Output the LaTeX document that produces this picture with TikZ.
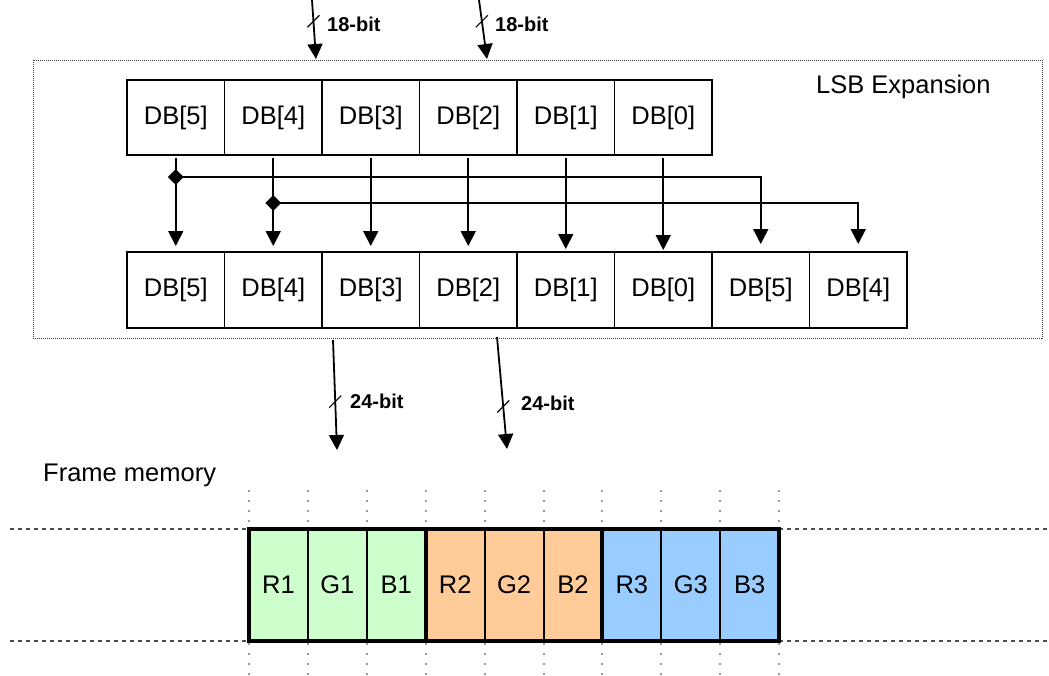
\documentclass[tikz,border=0pt]{standalone}
\usepackage{fontspec}
\setmainfont{Liberation Sans}
\usetikzlibrary{arrows.meta}
\usetikzlibrary{shapes.geometric, calc}
\definecolor{cellgreen}{RGB}{204,255,204}
\definecolor{cellorange}{RGB}{255,204,153}
\definecolor{cellblue}{RGB}{153,204,255}
\tikzset{
	bitbox/.style={draw, line width=1.8pt, inner sep=0pt, outer sep=0pt, minimum width=97.5pt, font=\fontsize{25.5}{30}\selectfont},
	toprow/.style={bitbox, minimum height=75pt},
	botrow/.style={bitbox, minimum height=76pt},
	arr/.style={line width=1.8pt, -{Triangle[length=15pt, width=15pt]}},
	junction/.style={diamond, fill, inner sep=0pt, minimum size=16pt},
	buslabel/.style={anchor=west, inner sep=0pt, font=\bfseries\fontsize{20}{24}\selectfont},
	mydots/.style={dash pattern=on 1pt off 1pt, line width=1pt, black!75},
	memcell/.style={draw, line width=2pt, inner sep=0pt, outer sep=0pt, minimum width=58.9pt, minimum height=112pt, font=\fontsize{25.5}{30}\selectfont},
	memgroup/.style={line width=4pt},
	memdash/.style={dash pattern=on 4pt off 4pt, line width=1.2pt, black!70},
	memdots/.style={dash pattern=on 2pt off 8pt, line width=2pt, black!40}
}

\begin{document}
\begin{tikzpicture}[x=1pt, y=-1pt]
	\useasboundingbox (0,0) rectangle (1049,675);
	% LSB expansion frame
	\node[draw, mydots, inner sep=0pt, minimum width=1009pt, minimum height=278pt] (lsb) at (537.5,199) {};
	\node[anchor=west, inner sep=0pt, font=\fontsize{25.5}{30}\selectfont] (lsbtitle) at (816,87) {LSB Expansion};
	% 18-bit input row
	\node[toprow] (t5) at (175.75,117.5) {DB[5]};
	\node[toprow] (t4) at (273.25,117.5) {DB[4]};
	\node[toprow] (t3) at (370.75,117.5) {DB[3]};
	\node[toprow] (t2) at (468.25,117.5) {DB[2]};
	\node[toprow] (t1) at (565.75,117.5) {DB[1]};
	\node[toprow] (t0) at (663.25,117.5) {DB[0]};
	% 24-bit output row
	\node[botrow] (b5) at (175.75,290) {DB[5]};
	\node[botrow] (b4) at (273.25,290) {DB[4]};
	\node[botrow] (b3) at (370.75,290) {DB[3]};
	\node[botrow] (b2) at (468.25,290) {DB[2]};
	\node[botrow] (b1) at (565.75,290) {DB[1]};
	\node[botrow] (b0) at (663.25,290) {DB[0]};
	\node[botrow] (b5x) at (760.75,290) {DB[5]};
	\node[botrow] (b4x) at (858.25,290) {DB[4]};
	% straight copies
	\draw[arr] ([yshift=-3pt]t5.south) -- ([yshift=6pt]b5.north);
	\draw[arr] ([yshift=-3pt]t4.south) -- ([yshift=6pt]b4.north);
	\draw[arr] ([yshift=-3pt]t3.south) -- ([yshift=6pt]b3.north);
	\draw[arr] ([yshift=-3pt]t2.south) -- ([yshift=6pt]b2.north);
	\draw[arr] ([yshift=-3pt]t1.south) -- ([yshift=3pt]b1.north);
	\draw[arr] ([yshift=-3pt]t0.south) -- ([yshift=2pt]b0.north);
	% repeated MSBs into the LSBs
	\node[junction] (j5) at (175.75,177) {};
	\node[junction] (j4) at (273.25,203) {};
	\draw[arr] (j5.center) -| ([yshift=8pt]b5x.north);
	\draw[arr] (j4.center) -| ([yshift=8pt]b4x.north);
	% input buses
	\coordinate (inA) at (312,0);
	\coordinate (inB) at (479,0);
	\draw[arr] (inA) -- (316,59);
	\draw[arr] (inB) -- (487,59);
	\draw[line width=1.2pt] ($(inA)!0.36!(316,59)$) +(-6,6) -- +(6,-6);
	\draw[line width=1.2pt] ($(inB)!0.36!(487,59)$) +(-6,6) -- +(6,-6);
	\node[buslabel] (busA) at (327,24) {18-bit};
	\node[buslabel] (busB) at (495,24) {18-bit};
	% output buses
	\coordinate (outA) at (333,340);
	\coordinate (outB) at (497,337);
	\coordinate (memA) at (337,450);
	\coordinate (memB) at (507,449);
	\draw[arr] (outA) -- (memA);
	\draw[arr] (outB) -- (memB);
	\draw[line width=1.2pt] ($(outA)!0.56!(memA)$) +(-6,6) -- +(6,-6);
	\draw[line width=1.2pt] ($(outB)!0.62!(memB)$) +(-6,6) -- +(6,-6);
	\node[buslabel] (busC) at (350,401) {24-bit};
	\node[buslabel] (busD) at (521,403) {24-bit};
	% frame memory
	\node[anchor=west, inner sep=0pt, font=\fontsize{25.5}{30}\selectfont] (memtitle) at (43,475) {Frame memory};
	\draw[memdash] (10,529) -- (249,529);
	\draw[memdash] (10,641) -- (249,641);
	\draw[memdash] (779,529) -- (1049,529);
	\draw[memdash] (779,641) -- (1049,641);
	\node[memcell, fill=cellgreen] (r1) at (278.45,585) {R1};
	\node[memcell, fill=cellgreen] (g1) at (337.35,585) {G1};
	\node[memcell, fill=cellgreen] (k1) at (396.25,585) {B1};
	\node[memcell, fill=cellorange] (r2) at (455.15,585) {R2};
	\node[memcell, fill=cellorange] (g2) at (514.05,585) {G2};
	\node[memcell, fill=cellorange] (k2) at (572.95,585) {B2};
	\node[memcell, fill=cellblue] (r3) at (631.85,585) {R3};
	\node[memcell, fill=cellblue] (g3) at (690.75,585) {G3};
	\node[memcell, fill=cellblue] (k3) at (749.65,585) {B3};
	\draw[memgroup] (r1.north west) rectangle (k1.south east);
	\draw[memgroup] (r2.north west) rectangle (k2.south east);
	\draw[memgroup] (r3.north west) rectangle (k3.south east);
	\draw[memdots] (r1.north west) ++(0,-7) -- ++(0,-36);
	\draw[memdots] (r1.north east) ++(0,-7) -- ++(0,-36);
	\draw[memdots] (g1.north east) ++(0,-7) -- ++(0,-36);
	\draw[memdots] (k1.north east) ++(0,-7) -- ++(0,-36);
	\draw[memdots] (r2.north east) ++(0,-7) -- ++(0,-36);
	\draw[memdots] (g2.north east) ++(0,-7) -- ++(0,-36);
	\draw[memdots] (k2.north east) ++(0,-7) -- ++(0,-36);
	\draw[memdots] (r3.north east) ++(0,-7) -- ++(0,-36);
	\draw[memdots] (g3.north east) ++(0,-7) -- ++(0,-36);
	\draw[memdots] (k3.north east) ++(0,-7) -- ++(0,-36);
	\draw[memdots] (r1.south west) ++(0,2) -- ++(0,34);
	\draw[memdots] (r1.south east) ++(0,2) -- ++(0,34);
	\draw[memdots] (g1.south east) ++(0,2) -- ++(0,34);
	\draw[memdots] (k1.south east) ++(0,2) -- ++(0,34);
	\draw[memdots] (r2.south east) ++(0,2) -- ++(0,34);
	\draw[memdots] (g2.south east) ++(0,2) -- ++(0,34);
	\draw[memdots] (k2.south east) ++(0,2) -- ++(0,34);
	\draw[memdots] (r3.south east) ++(0,2) -- ++(0,34);
	\draw[memdots] (g3.south east) ++(0,2) -- ++(0,34);
	\draw[memdots] (k3.south east) ++(0,2) -- ++(0,34);
\end{tikzpicture}
\end{document}
